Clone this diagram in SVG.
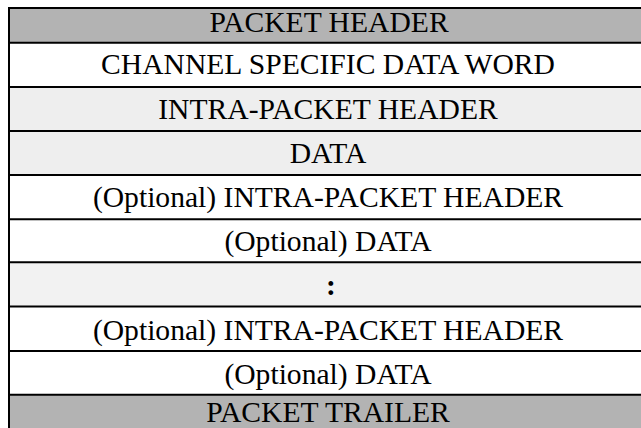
<svg xmlns="http://www.w3.org/2000/svg" width="641" height="428" viewBox="0 0 641 428">
<style>
.t{font-family:"Liberation Serif","Times New Roman",serif;font-size:29.6px;fill:#000;text-anchor:middle}
.ln{stroke:#000;stroke-width:2;fill:none}
.dark{fill:#b3b3b3}
.light{fill:#eeeeee}
.light2{fill:#f2f2f2}
.white{fill:#ffffff}
</style>
<rect x="0" y="0" width="641" height="428" fill="#ffffff"/>
<g id="row-packet-header"><rect class="dark" x="9" y="8" width="632" height="35"/><text class="t" x="329" y="31.5">PACKET HEADER</text></g>
<g id="row-channel-specific"><rect class="white" x="9" y="43" width="632" height="44"/><text class="t" x="328" y="74">CHANNEL SPECIFIC DATA WORD</text></g>
<g id="row-intra-header"><rect class="light" x="9" y="87" width="632" height="44"/><text class="t" x="328" y="118.5">INTRA-PACKET HEADER</text></g>
<g id="row-data"><rect class="light" x="9" y="131" width="632" height="44"/><text class="t" x="328" y="163">DATA</text></g>
<g id="row-opt-intra-1"><rect class="white" x="9" y="175" width="632" height="44"/><text class="t" x="328" y="207">(Optional) INTRA-PACKET HEADER</text></g>
<g id="row-opt-data-1"><rect class="white" x="9" y="219" width="632" height="43"/><text class="t" x="328" y="251">(Optional) DATA</text></g>
<g id="row-ellipsis"><rect class="light2" x="9" y="262" width="632" height="44"/><text class="t" x="331" y="295" font-weight="bold">:</text></g>
<g id="row-opt-intra-2"><rect class="white" x="9" y="306" width="632" height="45"/><text class="t" x="328" y="339.5">(Optional) INTRA-PACKET HEADER</text></g>
<g id="row-opt-data-2"><rect class="white" x="9" y="351" width="632" height="44"/><text class="t" x="328" y="384">(Optional) DATA</text></g>
<g id="row-packet-trailer"><rect class="dark" x="9" y="395" width="632" height="33"/><text class="t" x="328" y="422">PACKET TRAILER</text></g>
<g id="connectors">
<line class="ln" x1="9" y1="7" x2="9" y2="428"/>
<line class="ln" x1="8" y1="8" x2="641" y2="8"/>
<line class="ln" x1="8" y1="42.7" x2="641" y2="42.7"/>
<line class="ln" x1="8" y1="87" x2="641" y2="87"/>
<line class="ln" x1="8" y1="131" x2="641" y2="131"/>
<line class="ln" x1="8" y1="175" x2="641" y2="175"/>
<line class="ln" x1="8" y1="219.3" x2="641" y2="219.3"/>
<line class="ln" x1="8" y1="262.3" x2="641" y2="262.3"/>
<line class="ln" x1="8" y1="306.5" x2="641" y2="306.5"/>
<line class="ln" x1="8" y1="351" x2="641" y2="351"/>
<line class="ln" x1="8" y1="394.7" x2="641" y2="394.7"/>
</g>
</svg>
